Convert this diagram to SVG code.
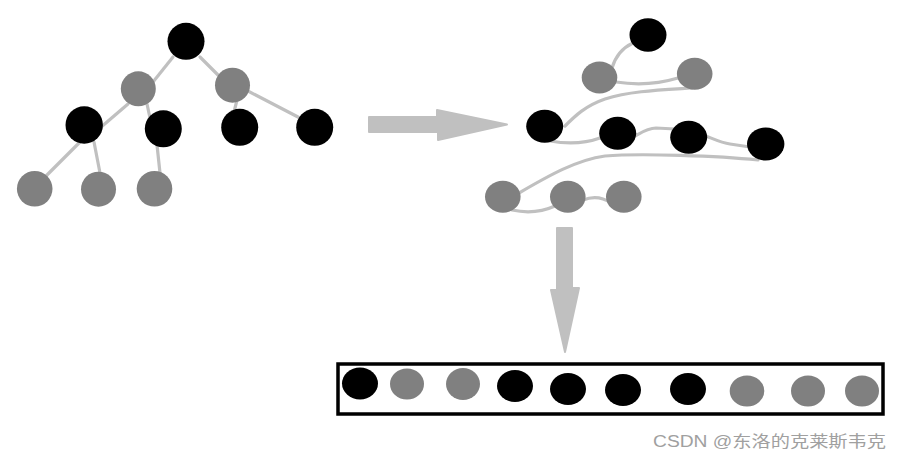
<svg xmlns="http://www.w3.org/2000/svg" width="900" height="460" viewBox="0 0 900 460">
<style>
.bk{fill:#000}
.gy{fill:#808080}
.edge{fill:none;stroke:#c0c0c0;stroke-width:3.2;stroke-linecap:round}
.arrow{fill:#c0c0c0;stroke:#c0c0c0;stroke-width:2;stroke-linejoin:round}
.wm{font-family:"Liberation Sans","Noto Sans CJK SC",sans-serif;font-size:16px;fill:#a0a0a0}
</style>
<rect width="900" height="460" fill="#fff"/>
<g id="connectors">
<line class="edge" x1="173" y1="57" x2="153" y2="82"/>
<line class="edge" x1="200" y1="57" x2="218" y2="75"/>
<line class="edge" x1="128" y1="104" x2="100" y2="128"/>
<line class="edge" x1="147" y1="104" x2="150" y2="118"/>
<line class="edge" x1="237" y1="100" x2="234" y2="112"/>
<line class="edge" x1="246" y1="90" x2="298" y2="117"/>
<line class="edge" x1="80" y1="142" x2="45" y2="177"/>
<line class="edge" x1="94" y1="142" x2="100" y2="173"/>
<line class="edge" x1="157" y1="145" x2="160" y2="173"/>
<path class="edge" d="M633,43 C622,48 615,58 612,68"/>
<path class="edge" d="M616,82 Q648,87 678,78"/>
<path class="edge" d="M692,88 C660,90 630,91 605,99 C585,106 575,116 565,126"/>
<path class="edge" d="M550,141 Q578,146 600,138"/>
<path class="edge" d="M635,136 C642,132 648,128 656,128 L675,129"/>
<path class="edge" d="M706,136 C716,140 722,143 730,144 L750,147"/>
<path class="edge" d="M758,160 C720,156 640,153 605,156 C575,160 545,178 519,193"/>
<path class="edge" d="M512,210 Q535,215 555,206"/>
<path class="edge" d="M583,200 Q598,194 611,203"/>
</g>
<g id="arrows">
<path class="arrow" d="M369,117 H437 V110 L507,124.5 L438,140 V132 H369 Z"/>
<path class="arrow" d="M557,228 H572 V288 H579 L565,352 L551,290 H557 Z"/>
</g>
<g id="tree">
<g id="t-root"><circle class="bk" cx="186" cy="41.3" r="18.5"/></g>
<g id="t-l"><circle class="gy" cx="138.3" cy="88.8" r="17.5"/></g>
<g id="t-r"><circle class="gy" cx="232.5" cy="85.2" r="17.5"/></g>
<g id="t-ll"><circle class="bk" cx="84.2" cy="125" r="18.7"/></g>
<g id="t-lr"><circle class="bk" cx="163.3" cy="128.8" r="18.5"/></g>
<g id="t-rl"><circle class="bk" cx="239.7" cy="127.3" r="18.5"/></g>
<g id="t-rr"><circle class="bk" cx="314.7" cy="127.3" r="18.5"/></g>
<g id="t-leaf1"><circle class="gy" cx="34.7" cy="188.8" r="17.8"/></g>
<g id="t-leaf2"><circle class="gy" cx="98.5" cy="189.2" r="17.5"/></g>
<g id="t-leaf3"><circle class="gy" cx="154.5" cy="188.8" r="17.8"/></g>
</g>
<g id="linked">
<g id="s-top"><ellipse class="bk" cx="648" cy="35" rx="18.5" ry="16.7"/></g>
<g id="s-g1"><ellipse class="gy" cx="599.5" cy="77.5" rx="17.8" ry="16"/></g>
<g id="s-g2"><ellipse class="gy" cx="694.7" cy="73.8" rx="17.8" ry="16"/></g>
<g id="s-a"><ellipse class="bk" cx="544.7" cy="126.3" rx="18.5" ry="16.5"/></g>
<g id="s-b"><ellipse class="bk" cx="617.7" cy="133.3" rx="18.5" ry="16.5"/></g>
<g id="s-c"><ellipse class="bk" cx="688.7" cy="137.3" rx="18.5" ry="16.5"/></g>
<g id="s-d"><ellipse class="bk" cx="765.7" cy="144" rx="18.7" ry="16.5"/></g>
<g id="s-g3"><ellipse class="gy" cx="502.8" cy="196.8" rx="17.8" ry="16"/></g>
<g id="s-g4"><ellipse class="gy" cx="567.8" cy="196.8" rx="17.8" ry="16"/></g>
<g id="s-g5"><ellipse class="gy" cx="623.8" cy="196.8" rx="17.8" ry="16"/></g>
</g>
<g id="array">
<rect x="338" y="364" width="545" height="50" fill="none" stroke="#000" stroke-width="3.5"/>
<g id="a1"><ellipse class="bk" cx="360" cy="383.5" rx="18" ry="16"/></g>
<g id="a2"><ellipse class="gy" cx="407" cy="384" rx="17" ry="15.5"/></g>
<g id="a3"><ellipse class="gy" cx="463" cy="384" rx="17" ry="16"/></g>
<g id="a4"><ellipse class="bk" cx="515" cy="386" rx="18" ry="16"/></g>
<g id="a5"><ellipse class="bk" cx="568" cy="389" rx="18" ry="16"/></g>
<g id="a6"><ellipse class="bk" cx="623" cy="390" rx="18" ry="16"/></g>
<g id="a7"><ellipse class="bk" cx="688" cy="389" rx="18" ry="16"/></g>
<g id="a8"><ellipse class="gy" cx="747" cy="391" rx="17.3" ry="15.5"/></g>
<g id="a9"><ellipse class="gy" cx="808" cy="391" rx="17" ry="15.5"/></g>
<g id="a10"><ellipse class="gy" cx="862" cy="391" rx="17" ry="15.5"/></g>
</g>
<text class="wm" x="653" y="447" textLength="233" lengthAdjust="spacingAndGlyphs">CSDN @东洛的克莱斯韦克</text>
</svg>
